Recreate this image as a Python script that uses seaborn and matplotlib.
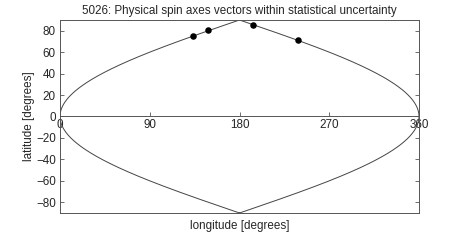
import numpy as np
import matplotlib
matplotlib.use("Agg")
import matplotlib.pyplot as plt
import seaborn as sns
import pandas as pd

# spin axis solutions (longitude, latitude) in degrees
pole_lon = [133.4, 148.7, 193.9, 238.5]
pole_lat = [75.4, 80.4, 85.4, 71.0]

xticks = [0, 90, 180, 270, 360]
yticks = [-80, -60, -40, -20, 0, 20, 40, 60, 80]

# outline of the sinusoidal projection (projection geometry, not data)
lat = np.linspace(-90, 90, 361)
outline = pd.DataFrame({
    "lon": np.concatenate([180 - 180 * np.cos(np.radians(lat)),
                           (180 + 180 * np.cos(np.radians(lat)))[::-1]]),
    "lat": np.concatenate([lat, lat[::-1]]),
})
poles = pd.DataFrame({"lon": pole_lon, "lat": pole_lat})

sns.set_style("white")
plt.rcParams["font.family"] = ["Liberation Sans", "DejaVu Sans"]
fs = 8.4

fig = plt.figure(figsize=(4.63, 2.41), dpi=100)
ax = fig.add_axes([60 / 463, 28 / 241, 359 / 463, 193 / 241])

edge = "#555555"
sns.lineplot(data=outline, x="lon", y="lat", sort=False, estimator=None,
             color="#444444", lw=0.7, ax=ax)
sns.scatterplot(data=poles, x="lon", y="lat", color="black", s=22,
                edgecolor="black", linewidth=0, zorder=5, ax=ax)

ax.set_xlim(0, 360)
ax.set_ylim(-90, 90)
ax.set_xticks(xticks)
ax.set_yticks(yticks)
ax.set_yticklabels([str(v).replace("-", "\u2212") for v in yticks])

for s in ax.spines.values():
    s.set_color(edge)
    s.set_linewidth(0.7)
ax.spines["bottom"].set_position(("data", 0))
ax.axhline(-90, color=edge, lw=0.7, clip_on=False)

ax.tick_params(axis="both", direction="in", length=3, width=0.6, color=edge,
               labelsize=fs, pad=3)
ax.tick_params(axis="y", right=True, left=True)
ax.tick_params(axis="x", bottom=True, top=False, pad=2)

ax.set_xlabel("longitude [degrees]", fontsize=fs)
ax.xaxis.set_label_coords(0.5, -0.035)
ax.set_ylabel("latitude [degrees]", fontsize=fs, labelpad=1)
ax.set_title("5026: Physical spin axes vectors within statistical uncertainty",
             fontsize=fs, pad=4)

fig.savefig("out.png", dpi=100)
